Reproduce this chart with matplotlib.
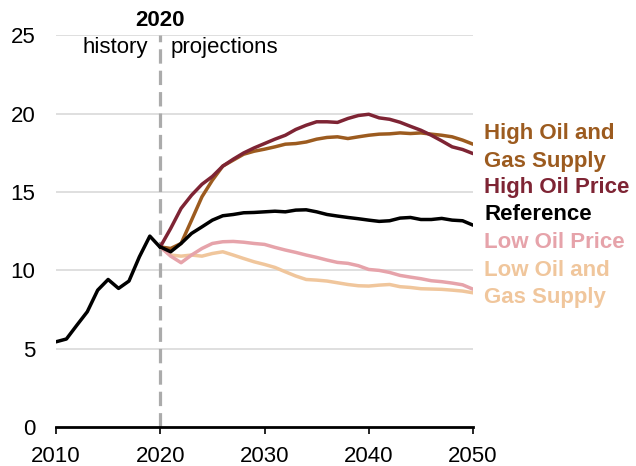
import matplotlib
matplotlib.use("Agg")
import matplotlib.pyplot as plt

plt.rcParams['font.family'] = ['Liberation Sans', 'DejaVu Sans']

hist_years = list(range(2010, 2021))
hist_vals = [5.44, 5.62, 6.5, 7.36, 8.74, 9.42, 8.85, 9.32, 10.87, 12.19, 11.47]

proj_years = list(range(2020, 2051))
high_price = [11.5, 12.68, 13.96, 14.8, 15.5, 16.0, 16.66, 17.1, 17.5, 17.82, 18.1,
              18.38, 18.63, 19.0, 19.27, 19.49, 19.49, 19.45, 19.7, 19.89, 19.97,
              19.74, 19.65, 19.46, 19.2, 18.95, 18.63, 18.27, 17.89, 17.72, 17.46]
high_supply = [11.5, 11.4, 11.72, 13.2, 14.7, 15.76, 16.66, 17.04, 17.42, 17.61, 17.74,
               17.89, 18.06, 18.1, 18.2, 18.38, 18.49, 18.53, 18.42, 18.53, 18.63,
               18.7, 18.72, 18.78, 18.74, 18.78, 18.7, 18.63, 18.53, 18.32, 18.06]
reference = [11.5, 11.19, 11.72, 12.36, 12.78, 13.21, 13.49, 13.57, 13.68, 13.7, 13.74,
             13.78, 13.74, 13.85, 13.87, 13.74, 13.57, 13.47, 13.38, 13.3, 13.21,
             13.13, 13.17, 13.34, 13.38, 13.25, 13.25, 13.32, 13.21, 13.17, 12.89]
low_price = [11.5, 10.91, 10.49, 10.98, 11.4, 11.72, 11.83, 11.85, 11.8, 11.72, 11.66,
             11.47, 11.3, 11.15, 10.98, 10.83, 10.66, 10.51, 10.45, 10.3, 10.06,
             10.0, 9.87, 9.68, 9.57, 9.47, 9.34, 9.28, 9.19, 9.08, 8.8]
low_supply = [11.5, 10.98, 10.91, 10.98, 10.91, 11.08, 11.19, 10.98, 10.76, 10.55, 10.38,
              10.19, 9.91, 9.64, 9.42, 9.38, 9.32, 9.21, 9.1, 9.02, 9.0,
              9.06, 9.1, 8.96, 8.91, 8.83, 8.81, 8.79, 8.74, 8.68, 8.57]

series_labels = [["High Oil and", "Gas Supply"], ["High Oil Price"], ["Reference"],
                 ["Low Oil Price"], ["Low Oil and", "Gas Supply"]]
colors = ["#9C5B1F", "#7E2434", "#000000", "#E6A3AA", "#F0C69C"]

x_ticks = [2010, 2020, 2030, 2040, 2050]
y_ticks = [0, 5, 10, 15, 20, 25]

FS = 16

fig = plt.figure(figsize=(6.36, 4.66), dpi=100)
ax = fig.add_axes([56/636, 1 - 427/466, (473-56)/636, (427-35.5)/466])

for y in y_ticks[1:]:
    ax.axhline(y, color="#d9d9d9", lw=1.2, zorder=0)

ax.axvline(2020, color="#ababab", lw=2.3, dashes=(4.5, 2.2), zorder=1)

lw = 2.5
ax.plot(proj_years, low_supply, color=colors[4], lw=lw, zorder=2, solid_capstyle='round')
ax.plot(proj_years, low_price, color=colors[3], lw=lw, zorder=3, solid_capstyle='round')
ax.plot(proj_years, high_supply, color=colors[0], lw=lw, zorder=4, solid_capstyle='round')
ax.plot(proj_years, high_price, color=colors[1], lw=lw, zorder=5, solid_capstyle='round')
ax.plot(proj_years, reference, color=colors[2], lw=lw, zorder=6, solid_capstyle='round')
ax.plot(hist_years, hist_vals, color="#000000", lw=lw, zorder=6, solid_capstyle='round')

ax.set_xlim(2010, 2050)
ax.set_ylim(0, 25)
ax.set_xticks(x_ticks)
ax.set_yticks(y_ticks)
ax.tick_params(axis='x', length=5, width=1.2, labelsize=FS, pad=9, color="#000000")
ax.tick_params(axis='y', length=0, labelsize=FS, pad=15)
for s in ["top", "right", "left"]:
    ax.spines[s].set_visible(False)
ax.spines["bottom"].set_linewidth(2)
ax.set_facecolor("none")

# annotations
ax.text(2020, 25.95, "2020", ha="center", va="center", fontsize=FS, fontweight="bold")
ax.text(2018.8, 24.25, "history", ha="right", va="center", fontsize=FS)
ax.text(2021.0, 24.25, "projections", ha="left", va="center", fontsize=FS)

# right-side labels (one text per line)
line_y_px = [134, 161, 188, 215, 243, 271, 298]
i = 0
for lines, col in zip(series_labels, colors):
    for ln in lines:
        fig.text(484/636, 1 - line_y_px[i]/466, ln, ha="left", va="center", fontsize=FS,
                 fontweight="bold", color=col)
        i += 1

fig.savefig("out.png", dpi=100)
